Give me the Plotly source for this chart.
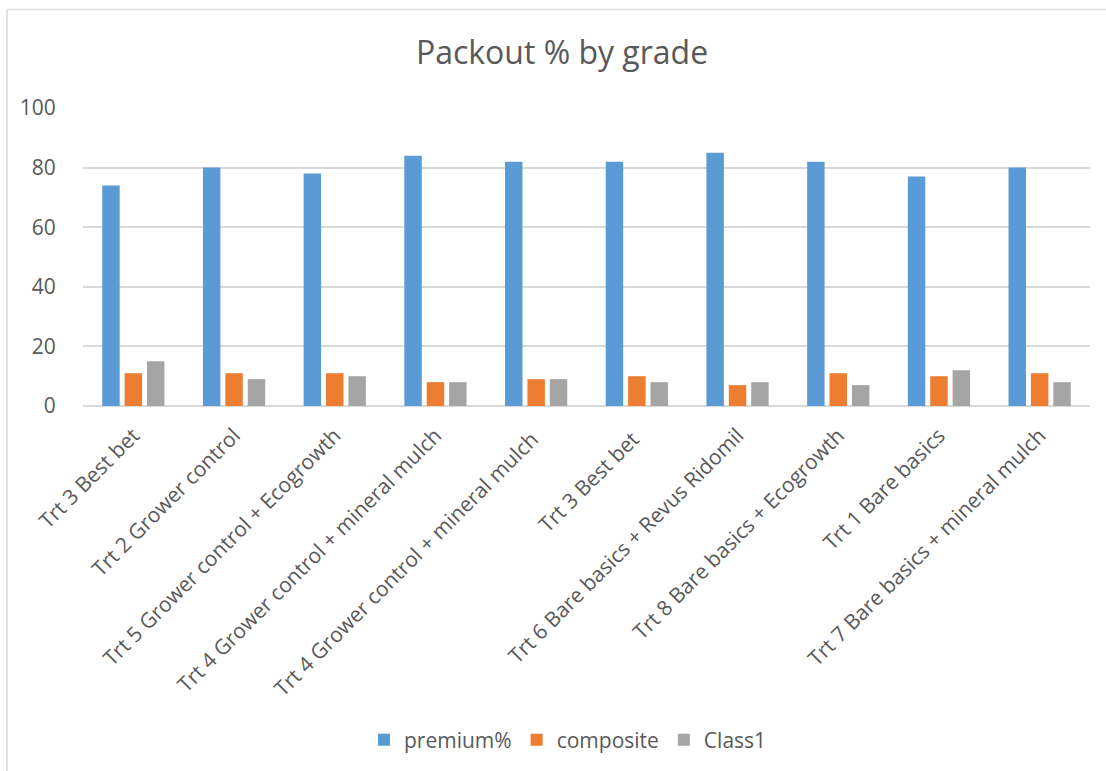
import plotly.graph_objects as go

# Treatments along the x axis
treatments = [
    "Trt 3 Best bet",
    "Trt 2 Grower control",
    "Trt 5 Grower control + Ecogrowth",
    "Trt 4 Grower control + mineral mulch",
    "Trt 4 Grower control + mineral mulch ",
    "Trt 3 Best bet ",
    "Trt 6 Bare basics + Revus Ridomil",
    "Trt 8 Bare basics + Ecogrowth",
    "Trt 1 Bare basics",
    "Trt 7 Bare basics + mineral mulch",
]

# Packout percentages per grade
premium = [74, 80, 78, 84, 82, 82, 85, 82, 77, 80]
composite = [11, 11, 11, 8, 9, 10, 7, 11, 10, 11]
class1 = [15, 9, 10, 8, 9, 8, 8, 7, 12, 8]

y_ticks = [0, 20, 40, 60, 80, 100]

W, H = 1106, 771
L, R, T, B = 83, 16, 108, 365
plot_w = W - L - R
plot_h = H - T - B

text_color = "#595959"
grid_color = "#D9D9D9"
font_family = "Open Sans, Lato, DejaVu Sans, sans-serif"

fig = go.Figure()
for name, vals, color in [
    ("premium%", premium, "#5B9BD5"),
    ("composite", composite, "#ED7D31"),
    ("Class1", class1, "#A5A5A5"),
]:
    fig.add_trace(go.Bar(
        name=name, x=treatments, y=vals,
        marker=dict(color=color, line=dict(width=0)),
    ))


def px_x(px):
    return (px - L) / plot_w


def px_y(py):
    return (H - B - py) / plot_h


# Chart-area frame along the top and left edges
frame = dict(color=grid_color, width=1.5)
shapes = [
    dict(type="line", xref="paper", yref="paper",
         x0=px_x(7), x1=px_x(W + 5), y0=px_y(9.5), y1=px_y(9.5), line=frame),
    dict(type="line", xref="paper", yref="paper",
         x0=px_x(7), x1=px_x(7), y0=px_y(9.5), y1=px_y(H + 5), line=frame),
]

fig.update_layout(
    width=W, height=H,
    margin=dict(l=L, r=R, t=T, b=B, autoexpand=False),
    paper_bgcolor="white", plot_bgcolor="white",
    font=dict(family=font_family, color=text_color, size=21),
    title=dict(
        text="Packout % by grade",
        font=dict(family=font_family, size=32, color=text_color),
        x=562 / W, xref="container", xanchor="center",
        y=1 - 53 / H, yref="container", yanchor="middle",
    ),
    barmode="group",
    bargap=0.333,
    bargroupgap=0.22,
    showlegend=True,
    legend=dict(
        orientation="h", x=px_x(568), xanchor="center",
        y=px_y(740), yanchor="middle",
        font=dict(size=21, color=text_color),
        itemsizing="constant", traceorder="normal",
    ),
    shapes=shapes,
)

fig.update_xaxes(
    tickangle=-45,
    showgrid=False, showline=False, zeroline=False,
    ticks="outside", ticklen=8, tickcolor="rgba(0,0,0,0)",
    tickfont=dict(size=21, color=text_color),
)
fig.update_yaxes(
    range=[0, 100], tickvals=y_ticks,
    showgrid=True, gridcolor=grid_color, gridwidth=1.5,
    zeroline=True, zerolinecolor=grid_color, zerolinewidth=1.5,
    showline=False, ticks="outside", ticklen=22, tickcolor="rgba(0,0,0,0)",
    tickfont=dict(size=21, color=text_color),
)

fig.write_html("out.html")
